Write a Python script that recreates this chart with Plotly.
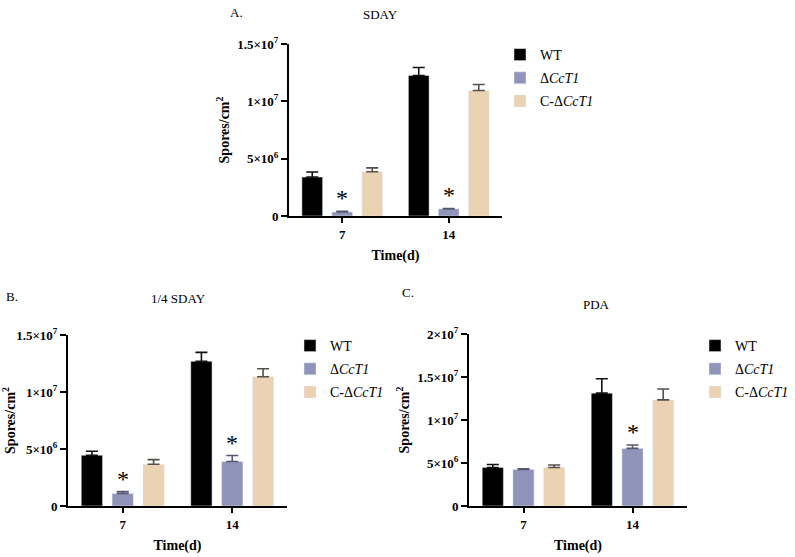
import plotly.graph_objects as go

W, H = 795, 557
days = ["7", "14"]
groups = ["WT", "Δ<i>CcT1</i>", "C-Δ<i>CcT1</i>"]
colors = ["#000000", "#9094B9", "#EAD2B2"]
err_colors = ["#111111", "#55586e", "#55504a"]

# Panel A: SDAY
a_wt = [3.40e6, 12.25e6]
a_wt_err = [0.44e6, 0.70e6]
a_ko = [0.35e6, 0.62e6]
a_ko_err = [0.05e6, 0.04e6]
a_comp = [3.86e6, 10.95e6]
a_comp_err = [0.34e6, 0.52e6]

# Panel B: 1/4 SDAY
b_wt = [4.45e6, 12.69e6]
b_wt_err = [0.35e6, 0.79e6]
b_ko = [1.09e6, 3.90e6]
b_ko_err = [0.17e6, 0.53e6]
b_comp = [3.66e6, 11.34e6]
b_comp_err = [0.41e6, 0.70e6]

# Panel C: PDA
c_wt = [4.48e6, 13.12e6]
c_wt_err = [0.35e6, 1.68e6]
c_ko = [4.25e6, 6.70e6]
c_ko_err = [0.07e6, 0.39e6]
c_comp = [4.48e6, 12.34e6]
c_comp_err = [0.28e6, 1.26e6]

sig_a = [True, True]
sig_b = [True, True]
sig_c = [False, True]

panels = [
    dict(letter="A.", title="SDAY", vals=[a_wt, a_ko, a_comp], errs=[a_wt_err, a_ko_err, a_comp_err], sig=sig_a,
         ymax=1.5e7, tickvals=[0, 5e6, 1e7, 1.5e7],
         ticktext=["0", "5×10<sup>6</sup>", "1×10<sup>7</sup>", "1.5×10<sup>7</sup>"],
         px=(289, 502), py=(44, 216), leg=(500, 39), let_xy=(236, 12), tit_xy=(380, 14)),
    dict(letter="B.", title="1/4 SDAY", vals=[b_wt, b_ko, b_comp], errs=[b_wt_err, b_ko_err, b_comp_err], sig=sig_b,
         ymax=1.5e7, tickvals=[0, 5e6, 1e7, 1.5e7],
         ticktext=["0", "5×10<sup>6</sup>", "1×10<sup>7</sup>", "1.5×10<sup>7</sup>"],
         px=(68, 287), py=(335, 506), leg=(290, 330), let_xy=(12, 296), tit_xy=(178, 298)),
    dict(letter="C.", title="PDA", vals=[c_wt, c_ko, c_comp], errs=[c_wt_err, c_ko_err, c_comp_err], sig=sig_c,
         ymax=2e7, tickvals=[0, 5e6, 1e7, 1.5e7, 2e7],
         ticktext=["0", "5×10<sup>6</sup>", "1×10<sup>7</sup>", "1.5×10<sup>7</sup>", "2×10<sup>7</sup>"],
         px=(469, 687), py=(334, 506), leg=(695, 330), let_xy=(408, 292), tit_xy=(596, 304)),
]

FONT = '"Liberation Serif", "Times New Roman", serif'
fig = go.Figure()
annotations = []
layout = {}
for i, p in enumerate(panels):
    n = "" if i == 0 else str(i + 1)
    xa, ya = "x" + n, "y" + n
    leg = "legend" + n
    for j in range(3):
        fig.add_trace(go.Bar(
            x=days, y=p["vals"][j], name=groups[j], marker_color=colors[j],
            error_y=dict(type="data", array=p["errs"][j], arrayminus=[0, 0], symmetric=False,
                         color=err_colors[j], thickness=1.6, width=6),
            xaxis=xa, yaxis=ya, legend=leg, legendgroup=f"g{i}{j}",
        ))
    x0, x1 = p["px"]
    y0, y1 = p["py"]
    layout["xaxis" + n] = dict(
        domain=[x0 / W, x1 / W], anchor=ya, type="category", range=[-0.5, 1.5], automargin=False,
        showline=True, linecolor="black", linewidth=2, ticks="outside", ticklen=5, tickwidth=2,
        tickcolor="black", tickfont=dict(family=FONT, size=13, color="black", weight="bold"),
        title=dict(text="<b>Time(d)</b>", font=dict(family=FONT, size=14, color="black"), standoff=10),
        showgrid=False, zeroline=False, fixedrange=True,
    )
    layout["yaxis" + n] = dict(
        domain=[1 - y1 / H, 1 - y0 / H], anchor=xa, range=[0, p["ymax"]], automargin=False,
        tickvals=p["tickvals"], ticktext=["<b>" + t + "</b>" for t in p["ticktext"]],
        showline=True, linecolor="black", linewidth=2, ticks="outside", ticklen=6, tickwidth=2,
        tickcolor="black", tickfont=dict(family=FONT, size=13, color="black"),
        title=dict(text="<b>Spores/cm<sup>2</sup></b>", font=dict(family=FONT, size=14, color="black"), standoff=4),
        showgrid=False, zeroline=False, fixedrange=True,
    )
    layout[leg] = dict(
        x=p["leg"][0] / W, y=1 - p["leg"][1] / H, xanchor="left", yanchor="top",
        font=dict(family=FONT, size=14, color="black"), tracegroupgap=2, bgcolor="rgba(0,0,0,0)",
    )
    annotations.append(dict(text=p["letter"], x=p["let_xy"][0] / W, y=1 - p["let_xy"][1] / H,
                            xref="paper", yref="paper", showarrow=False, xanchor="center", yanchor="middle",
                            font=dict(family=FONT, size=13, color="black")))
    annotations.append(dict(text=p["title"], x=p["tit_xy"][0] / W, y=1 - p["tit_xy"][1] / H,
                            xref="paper", yref="paper", showarrow=False, xanchor="center", yanchor="middle",
                            font=dict(family=FONT, size=13, color="black")))
    for k in range(len(days)):
        if p["sig"][k]:
            annotations.append(dict(text="*", x=k, y=p["vals"][1][k] + p["errs"][1][k], xref=xa, yref=ya,
                                    showarrow=False, yanchor="bottom", yshift=-2,
                                    font=dict(family=FONT, size=24, color="black")))

fig.update_layout(
    width=W, height=H, margin=dict(l=0, r=0, t=0, b=0, autoexpand=False),
    paper_bgcolor="white", plot_bgcolor="white", font=dict(family=FONT, color="black"),
    barmode="group", bargap=0.155, bargroupgap=0.31,
    annotations=annotations, showlegend=True,
    **layout,
)
fig.write_html("out.html", config={"displayModeBar": False},
               post_script="document.body.style.margin='0';document.body.style.overflow='hidden';")
